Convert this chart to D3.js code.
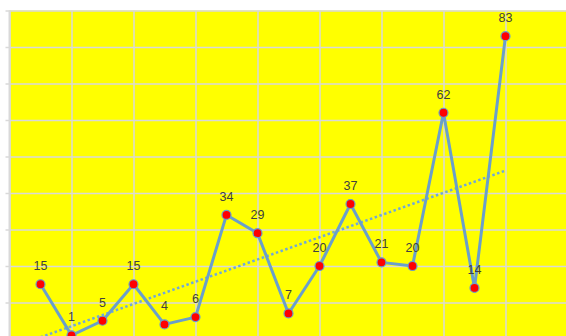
<!DOCTYPE html>
<html>
<head>
<meta charset="utf-8">
<script src="https://cdn.jsdelivr.net/npm/d3@7"></script>
<style>
  body { margin: 0; background: #fff; }
  .grid line { stroke: #d9d9d9; stroke-width: 1.5; }
  .grid path { display: none; }
  .label { font-family: "Liberation Sans", Arial, sans-serif; font-size: 12.5px; fill: #404040; }
</style>
</head>
<body>
<div id="chart"></div>
<script>
// data
var xs = [1, 2, 3, 4, 5, 6, 7, 8, 9, 10, 11, 12, 13, 14, 15, 16];
var values = [15, 1, 5, 15, 4, 6, 34, 29, 7, 20, 37, 21, 20, 62, 14, 83];
var xTicks = [0, 2, 4, 6, 8, 10, 12, 14, 16, 18];
var yTicks = [0, 10, 20, 30, 40, 50, 60, 70, 80, 90];

var W = 566, H = 336;

var x = d3.scaleLinear().domain([0, 18]).range([9.5, 567.5]);
var y = d3.scaleLinear().domain([0, 90]).range([339, 10.6]);

var svg = d3.select("#chart").append("svg")
    .attr("width", W)
    .attr("height", H);

// plot background
svg.append("rect")
   .attr("x", x(0))
   .attr("y", y(90))
   .attr("width", W - x(0))
   .attr("height", H - y(90))
   .attr("fill", "#ffff00");

// horizontal grid (with small ticks sticking out left)
svg.append("g")
   .attr("class", "grid")
   .attr("transform", "translate(" + x(0) + ",0)")
   .call(d3.axisLeft(y).tickValues(yTicks).tickSize(-(W - x(0) + 4)).tickSizeOuter(0).tickFormat(""))
   .selectAll("line").attr("x1", -4).attr("x2", W);

// vertical grid
svg.append("g")
   .attr("class", "grid")
   .attr("transform", "translate(0," + y(0) + ")")
   .call(d3.axisBottom(x).tickValues(xTicks).tickSize(-(y(0) - y(90))).tickSizeOuter(0).tickFormat(""));

// left axis line
svg.append("line")
   .attr("x1", x(0)).attr("x2", x(0))
   .attr("y1", y(90)).attr("y2", H)
   .attr("stroke", "#d9d9d9")
   .attr("stroke-width", 2);

var pts = xs.map(function(d, i) { return {x: d, v: values[i]}; });

// linear trend
var n = pts.length,
    mx = d3.mean(xs),
    my = d3.mean(values);
var sxy = d3.sum(pts, function(p) { return (p.x - mx) * (p.v - my); });
var sxx = d3.sum(pts, function(p) { return (p.x - mx) * (p.x - mx); });
var slope = sxy / sxx, icpt = my - slope * mx;
var first = xs[0], last = xs[n - 1];

svg.append("line")
   .attr("x1", x(first)).attr("y1", y(icpt + slope * first))
   .attr("x2", x(last)).attr("y2", y(icpt + slope * last))
   .attr("stroke", "#6fa8dc")
   .attr("stroke-width", 2.5)
   .attr("stroke-dasharray", "2.5,2.5");

var line = d3.line()
    .x(function(d) { return x(d.x); })
    .y(function(d) { return y(d.v); });

svg.append("path")
   .datum(pts)
   .attr("fill", "none")
   .attr("stroke", "#6a9fcb")
   .attr("stroke-width", 3)
   .attr("stroke-linejoin", "round")
   .attr("d", line);

svg.selectAll("circle.pt")
   .data(pts)
   .enter().append("circle")
   .attr("class", "pt")
   .attr("cx", function(d) { return x(d.x); })
   .attr("cy", function(d) { return y(d.v); })
   .attr("r", 4.5)
   .attr("fill", "#ff0000")
   .attr("stroke", "#6a9fcb")
   .attr("stroke-width", 1.2);

svg.selectAll("text.label")
   .data(pts)
   .enter().append("text")
   .attr("class", "label")
   .attr("x", function(d) { return x(d.x); })
   .attr("y", function(d) { return y(d.v) - 14; })
   .attr("text-anchor", "middle")
   .text(function(d) { return d.v; });
</script>
</body>
</html>
